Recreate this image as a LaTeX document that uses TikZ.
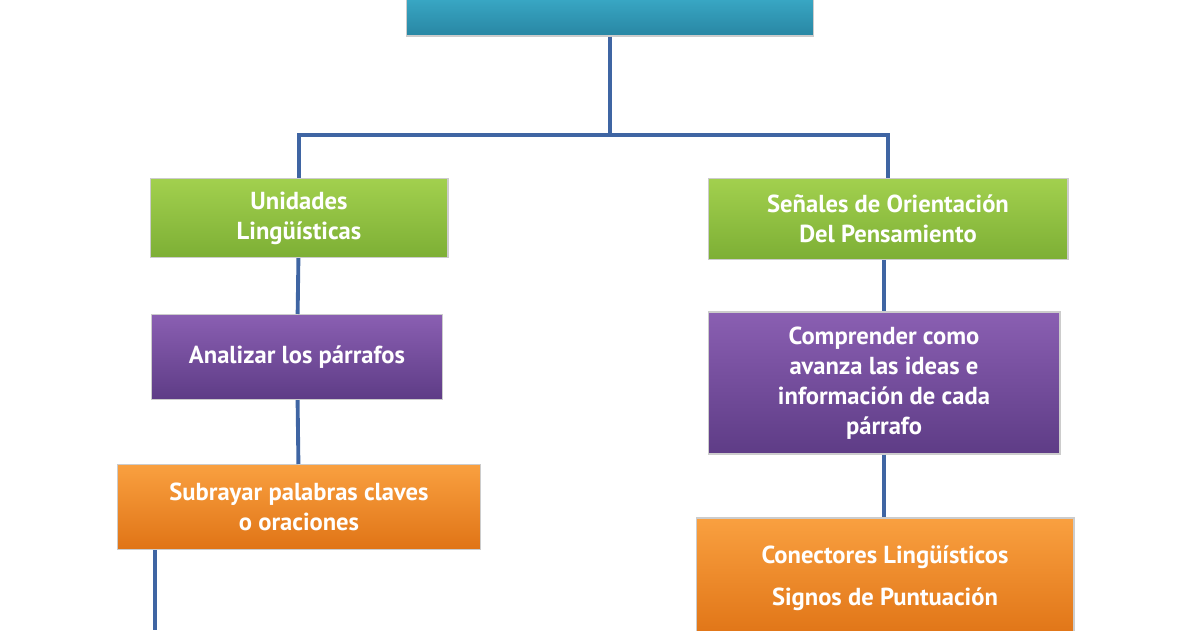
\documentclass[tikz,border=0pt]{standalone}
\usepackage{fontspec}
\setmainfont{PT Sans}
\usetikzlibrary{positioning}
\definecolor{linkc}{HTML}{3F65A3}
\definecolor{tealtop}{HTML}{3AA9C6}\definecolor{tealbot}{HTML}{2886A3}
\definecolor{greentop}{HTML}{A2D04E}\definecolor{greenbot}{HTML}{7DAF35}
\definecolor{purptop}{HTML}{8A5FB2}\definecolor{purpbot}{HTML}{5E3C86}
\definecolor{orgtop}{HTML}{F9A040}\definecolor{orgbot}{HTML}{E07416}
\begin{document}
\begin{tikzpicture}[
    x=0.02cm, y=-0.02cm,
    font=\bfseries\fontsize{14}{17}\selectfont
]
\tikzset{
    box/.style = {draw=white!80!black, line width=0.6pt, align=center, text=white, inner sep=2pt},
    tealbox/.style = {box, top color=tealtop, bottom color=tealbot},
    greenbox/.style = {box, top color=greentop, bottom color=greenbot},
    purpbox/.style = {box, top color=purptop, bottom color=purpbot},
    orgbox/.style = {box, top color=orgtop, bottom color=orgbot},
    link/.style = {linkc, line width=2.2pt}
}
\useasboundingbox (0,0) rectangle (1200,630);
\node[tealbox, minimum width=8.14cm, minimum height=0.8cm] at (610,16) (top) {};
\node[greenbox, minimum width=5.96cm, minimum height=1.58cm] at (299,218) (unid) {Unidades\\Lingüísticas};
\node[greenbox, minimum width=7.2cm, minimum height=1.62cm] at (888,219) (senal) {Señales de Orientación\\Del Pensamiento};
\node[purpbox, minimum width=5.82cm, minimum height=1.7cm] at (297,357) (anal) {Analizar los párrafos};
\node[purpbox, minimum width=7.04cm, minimum height=2.84cm] at (884,383) (compr) {Comprender como\\avanza las ideas e\\información de cada\\párrafo};
\node[orgbox, minimum width=7.28cm, minimum height=1.7cm] at (299,507) (subr) {Subrayar palabras claves\\o oraciones};
\node[orgbox, minimum width=7.56cm, minimum height=2.4cm, font=\bfseries\fontsize{14}{24}\selectfont] at (885,578) (conec) {Conectores Lingüísticos\\Signos de Puntuación};
\coordinate (fork) at (610,135);
\coordinate (lend) at (155,630);
\draw[link] (top.south) -- (fork);
\draw[link] (fork) -| (unid.north);
\draw[link] (fork) -| (senal.north);
\draw[link] (unid) -- (anal);
\draw[link] (anal) -- (subr);
\draw[link] (senal.south -| compr.north) -- (compr.north);
\draw[link] (compr.south) -- (conec.north -| compr.south);
\draw[link] (subr.south -| lend) -- (lend);
\end{tikzpicture}
\end{document}
